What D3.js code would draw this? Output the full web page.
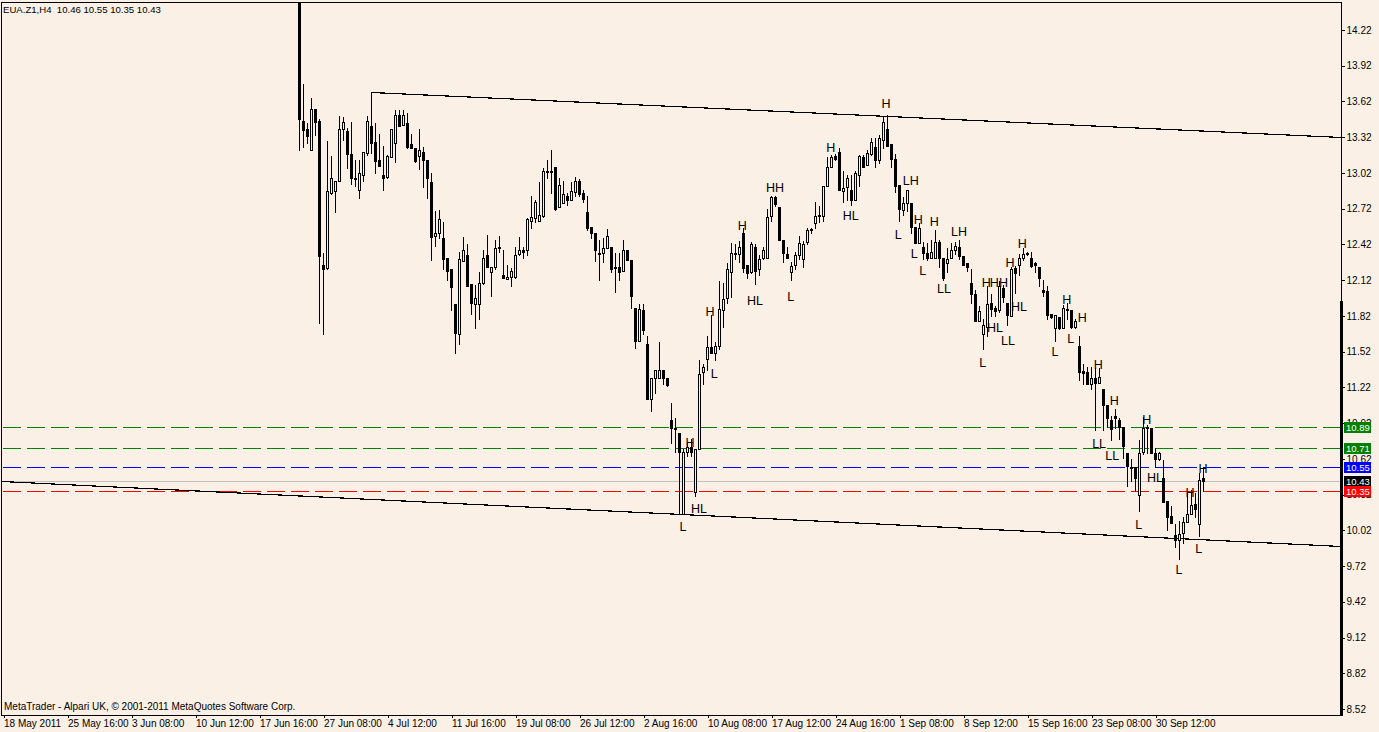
<!DOCTYPE html>
<html><head><meta charset="utf-8">
<script src="https://cdn.jsdelivr.net/npm/d3@7"></script>
<style>html,body{margin:0;padding:0;background:#FAF0E6;}svg{display:block}</style>
</head><body><svg id="c" width="1379" height="732"></svg>
<script>
// ---------------- DATA ----------------
const symbolTitle = "EUA.Z1,H4  10.46 10.55 10.35 10.43";
const copyright = "MetaTrader - Alpari UK, \u00A9 2001-2011 MetaQuotes Software Corp.";
const firstBar = 74; // index of first visible H4 bar (bar 0 = 18 May 2011)
const opens = [
14.95,13.46,13.39,13.21,13.56,13.46,12.25,12.22,12.85,12.87,
12.95,13.39,13.37,13.18,12.98,12.88,13.00,13.19,13.41,13.28,
13.13,13.00,12.99,13.15,13.27,13.51,13.42,13.44,13.26,13.23,
13.16,13.20,13.13,12.94,12.49,12.52,12.47,12.31,12.21,11.92,
11.67,12.28,12.33,12.09,11.92,11.92,12.10,12.33,12.19,12.23,
12.40,12.16,12.13,12.15,12.15,12.34,12.37,12.37,12.62,12.64,
12.62,12.66,13.04,13.03,13.07,12.73,12.77,12.83,12.79,12.86,
12.95,12.85,12.69,12.57,12.52,12.35,12.35,12.39,12.40,12.23,
12.23,12.20,12.37,12.29,11.89,11.61,11.87,11.58,11.12,11.30,
11.30,11.37,11.30,10.95,10.88,10.84,10.16,10.68,10.72,10.34,
10.70,11.35,11.46,11.56,11.51,11.57,11.87,11.97,12.19,12.35,
12.34,12.52,12.25,12.19,12.40,12.21,12.31,12.31,12.66,12.82,
12.73,12.46,12.34,12.19,12.25,12.33,12.30,12.44,12.54,12.60,
12.66,12.66,12.91,13.07,13.16,13.20,12.87,12.90,12.88,12.79,
13.00,13.15,13.09,13.18,13.24,13.13,13.30,13.39,13.26,13.14,
12.92,12.71,12.77,12.77,12.57,12.43,12.40,12.35,12.31,12.31,
12.44,12.31,12.26,12.31,12.37,12.40,12.32,12.26,12.10,12.00,
11.78,11.67,11.73,11.93,11.89,11.87,12.05,11.93,11.82,12.22,
12.25,12.31,12.35,12.31,12.26,12.23,12.04,12.03,11.84,11.72,
11.81,11.72,11.88,11.87,11.73,11.57,11.36,11.35,11.25,11.30,
11.26,11.21,11.07,10.95,10.98,10.95,10.89,10.67,10.55,10.55,
10.32,10.68,10.89,10.88,10.67,10.62,10.46,10.27,10.14,9.98,
9.94,10.00,10.09,10.16,10.24,10.07,10.46];
const highs = [
15.10,13.77,13.44,13.65,13.56,13.47,12.35,13.29,13.16,12.95,
13.50,13.49,13.40,13.45,13.13,13.13,13.20,13.50,13.70,13.44,
13.35,13.25,13.17,13.39,13.55,13.55,13.55,13.52,13.35,13.23,
13.39,13.24,13.13,13.02,12.70,12.71,12.61,12.31,12.21,11.92,
12.36,12.48,12.42,12.09,12.08,12.19,12.37,12.50,12.23,12.46,
12.49,12.37,12.25,12.22,12.40,12.48,12.40,12.64,12.83,12.79,
12.94,13.06,13.13,13.21,13.07,12.98,12.95,12.85,12.94,12.99,
12.97,12.88,12.83,12.57,12.52,12.46,12.47,12.55,12.40,12.35,
12.35,12.46,12.37,12.29,11.89,11.92,11.92,11.65,11.30,11.37,
11.60,11.37,11.30,11.09,10.96,10.84,10.70,10.76,10.79,10.70,
11.45,11.42,11.65,11.83,11.60,12.11,12.10,12.26,12.43,12.42,
12.45,12.56,12.25,12.44,12.42,12.33,12.40,12.72,12.83,12.83,
12.73,12.46,12.40,12.27,12.36,12.49,12.45,12.56,12.56,12.78,
12.74,12.91,13.15,13.17,13.18,13.23,13.04,13.00,13.00,13.04,
13.17,13.17,13.21,13.31,13.31,13.34,13.49,13.51,13.26,13.18,
12.92,12.82,12.88,12.77,12.57,12.60,12.44,12.43,12.46,12.54,
12.46,12.31,12.39,12.43,12.44,12.46,12.32,12.26,12.21,12.04,
11.90,11.79,12.07,12.00,11.90,12.11,12.08,11.93,12.23,12.24,
12.34,12.39,12.36,12.36,12.27,12.23,12.12,12.07,11.84,11.83,
11.81,11.91,11.93,11.87,11.79,11.65,11.42,11.39,11.39,11.38,
11.38,11.21,11.07,10.98,11.04,10.96,10.89,10.67,10.62,10.55,
10.78,10.97,10.90,10.88,10.71,10.68,10.61,10.27,10.22,10.07,
10.10,10.13,10.34,10.36,10.33,10.50,10.55];
const lows = [
13.21,13.24,13.27,13.21,13.34,11.76,11.67,12.21,12.84,12.69,
12.95,13.30,13.06,12.93,12.91,12.81,12.95,13.17,13.19,13.02,
13.08,12.88,12.98,13.15,13.11,13.41,13.42,13.23,13.23,13.11,
13.05,12.90,12.81,12.29,12.41,12.47,12.21,12.12,11.87,11.51,
11.58,12.28,12.07,11.84,11.72,11.79,12.09,12.23,11.99,12.21,
12.36,12.14,12.13,12.07,12.14,12.33,12.31,12.33,12.56,12.61,
12.62,12.65,12.98,12.85,12.71,12.73,12.77,12.75,12.79,12.83,
12.83,12.78,12.54,12.47,12.28,12.12,12.27,12.39,12.19,12.02,
12.12,12.20,12.29,11.89,11.55,11.61,11.67,11.12,11.02,11.17,
11.30,11.25,11.23,10.75,10.68,10.16,10.16,10.64,10.64,10.31,
10.70,11.25,11.37,11.51,11.45,11.54,11.73,11.93,11.98,12.30,
12.27,12.19,12.14,12.18,12.09,12.16,12.30,12.31,12.62,12.74,
12.46,12.27,12.31,12.12,12.21,12.30,12.23,12.42,12.52,12.56,
12.61,12.62,12.91,13.07,13.13,12.88,12.78,12.79,12.75,12.79,
12.91,13.07,13.09,13.17,13.07,13.10,13.23,13.25,13.07,12.86,
12.62,12.67,12.70,12.52,12.43,12.43,12.30,12.29,12.31,12.31,
12.23,12.12,12.19,12.31,12.34,12.30,12.25,12.20,11.93,11.78,
11.78,11.54,11.65,11.82,11.82,11.85,11.94,11.74,11.82,12.01,
12.16,12.29,12.33,12.23,12.19,12.07,11.99,11.79,11.80,11.61,
11.71,11.72,11.79,11.72,11.72,11.28,11.25,11.25,11.21,10.86,
11.26,10.86,10.89,10.78,10.88,10.79,10.63,10.39,10.43,10.35,
10.18,10.66,10.67,10.67,10.55,10.61,10.26,10.02,10.08,9.88,
9.78,9.91,10.09,10.16,10.13,9.97,10.35];
const closes = [
13.47,13.38,13.33,13.56,13.45,12.32,12.21,12.87,12.98,12.95,
13.39,13.45,13.18,12.98,12.97,13.02,13.20,13.46,13.27,13.12,
13.08,12.98,13.16,13.39,13.51,13.41,13.51,13.24,13.23,13.12,
13.21,13.13,12.98,12.48,12.52,12.63,12.30,12.20,12.06,11.68,
12.30,12.37,12.07,11.93,11.97,12.10,12.31,12.23,12.23,12.39,
12.39,12.14,12.15,12.20,12.33,12.37,12.36,12.63,12.65,12.78,
12.67,13.04,13.03,13.04,12.72,12.92,12.84,12.79,12.87,12.95,
12.84,12.80,12.56,12.52,12.37,12.34,12.39,12.49,12.21,12.22,
12.19,12.37,12.29,11.99,11.61,11.88,11.70,11.12,11.30,11.37,
11.37,11.30,11.24,10.88,10.87,10.68,10.68,10.72,10.68,10.70,
11.33,11.39,11.56,11.51,11.57,11.88,11.96,12.21,12.35,12.34,
12.40,12.22,12.18,12.42,12.20,12.30,12.37,12.65,12.82,12.76,
12.46,12.35,12.31,12.24,12.33,12.43,12.42,12.54,12.55,12.66,
12.67,12.91,13.07,13.15,13.14,12.88,12.89,12.98,12.79,13.02,
13.16,13.07,13.19,13.28,13.13,13.31,13.45,13.25,13.14,12.91,
12.72,12.77,12.88,12.57,12.43,12.56,12.35,12.31,12.36,12.44,
12.31,12.14,12.30,12.37,12.41,12.32,12.25,12.23,12.00,11.78,
11.86,11.74,11.92,11.88,11.86,12.07,11.98,11.83,12.21,12.18,
12.31,12.34,12.34,12.24,12.25,12.14,12.02,11.83,11.81,11.83,
11.72,11.89,11.87,11.73,11.78,11.35,11.34,11.25,11.30,11.26,
11.31,11.07,10.96,10.87,10.96,10.89,10.73,10.56,10.54,10.46,
10.67,10.88,10.88,10.67,10.62,10.67,10.26,10.13,10.08,9.94,
9.99,10.09,10.16,10.23,10.20,10.44,10.43];

const timeLabels = ["18 May 2011","25 May 16:00","3 Jun 08:00","10 Jun 12:00","17 Jun 16:00",
"27 Jun 08:00","4 Jul 12:00","11 Jul 16:00","19 Jul 08:00","26 Jul 12:00","2 Aug 16:00",
"10 Aug 08:00","17 Aug 12:00","24 Aug 16:00","1 Sep 08:00","8 Sep 12:00","15 Sep 16:00",
"23 Sep 08:00","30 Sep 12:00"];
const barsPerTimeLabel = 16;
const priceTicks = [14.22,13.92,13.62,13.32,13.02,12.72,12.42,12.12,11.82,11.52,11.22,
10.92,10.62,10.32,10.02,9.72,9.42,9.12,8.82,8.52];

const levelNames  = ["resistance1","resistance2","high","bid","low"];
const levelPrices = [10.89, 10.71, 10.55, 10.43, 10.35];

const upperTrendBars = [92, 334.5];
const upperTrendPrices = [13.70, 13.32];
const lowerTrendBars = [-0.5, 334.5];
const lowerTrendPrices = [10.43, 9.89];

const markTexts  = ["H","H","HH","H","HL","L","H","L","H","HL","L","HL","L","LH","H","L","H","L","LH","LL",
"H","H","H","H","H","HL","HL","LL","L","H","H","L","L","H","H","H","LL","LL","HL","L","L","L","H","H"];
const markBars   = [220.6,206.8,192.9,184.7,187.9,196.8,176.6,177.7,171.6,173.9,169.9,211.8,223.7,226.8,228.7,227.7,232.7,229.8,238.9,235.1,
254.7,251.6,245.7,247.7,250.0,253.9,247.9,251.1,244.8,265.8,269.7,266.8,262.9,273.7,277.7,285.8,273.9,277.2,287.9,283.8,293.9,298.8,296.6,299.9];
const markPrices = [13.60,13.23,12.90,12.58,11.95,11.98,11.86,11.34,10.76,10.20,10.05,12.66,12.50,12.96,12.63,12.34,12.61,12.20,12.53,12.05,
12.43,12.27,12.10,12.10,12.10,11.90,11.72,11.61,11.43,11.96,11.81,11.63,11.52,11.41,11.11,10.95,10.75,10.65,10.46,10.07,9.69,9.87,10.34,10.54];

// ---------------- STYLE / LAYOUT ----------------
const W = 1379, H = 732;
const BG = "#FAF0E6";
const plot = {left: 1.5, top: 2.5, right: 1341.5, bottom: 715.5};
const levelStyle = {
  resistance1: {stroke: "#008000", dash: "18,6", box: "#008000"},
  resistance2: {stroke: "#008000", dash: "18,6", box: "#008000"},
  high:        {stroke: "#0000FF", dash: "18,6", box: "#0000FF"},
  bid:         {stroke: "#C0C0C0", dash: null,   box: "#000000"},
  low:         {stroke: "#FF0000", dash: "18,6", box: "#FF0000"}
};
const FONT = "'Liberation Sans', Arial, sans-serif";

const svg = d3.select("#c");
svg.append("rect").attr("width", W).attr("height", H).attr("fill", BG);

const x = d3.scaleLinear().domain([0, 1]).range([3, 7]);          // bar index -> pixel column
const y = d3.scaleLinear().domain([8.52, 14.22]).range([709, 30]); // price -> pixel row

svg.append("defs").append("clipPath").attr("id", "plotClip")
  .append("rect").attr("x", 2).attr("y", 3).attr("width", 1339).attr("height", 712);

const candles = opens.map((o, k) => ({i: firstBar + k, o, h: highs[k], l: lows[k], c: closes[k]}));

// horizontal levels
const lv = svg.append("g").attr("clip-path", "url(#plotClip)").attr("shape-rendering", "crispEdges");
levelPrices.forEach((p, k) => {
  const st = levelStyle[levelNames[k]];
  const yy = Math.round(y(p)) + 0.5;
  lv.append("line").attr("x1", 3).attr("x2", 1341).attr("y1", yy).attr("y2", yy)
    .attr("stroke", st.stroke).attr("stroke-width", 1)
    .attr("stroke-dasharray", st.dash);
});

// trend lines
const tl = svg.append("g").attr("clip-path", "url(#plotClip)").attr("shape-rendering", "crispEdges");
[[upperTrendBars, upperTrendPrices], [lowerTrendBars, lowerTrendPrices]].forEach(([b, p]) => {
  tl.append("line")
    .attr("x1", x(b[0]) + 0.5).attr("y1", Math.round(y(p[0])) + 0.5)
    .attr("x2", x(b[1]) + 0.5).attr("y2", Math.round(y(p[1])) + 0.5)
    .attr("stroke", "#000").attr("stroke-width", 1.2);
});

// candles
const cg = svg.append("g").attr("clip-path", "url(#plotClip)").attr("shape-rendering", "crispEdges");
candles.forEach(d => {
  const c = x(d.i);
  const yh = Math.round(y(d.h)), yl = Math.round(y(d.l));
  cg.append("line").attr("x1", c + 0.5).attr("x2", c + 0.5)
    .attr("y1", yh).attr("y2", yl + 1).attr("stroke", "#000").attr("stroke-width", 1);
  const yt = Math.round(y(Math.max(d.o, d.c))), yb = Math.round(y(Math.min(d.o, d.c)));
  if (d.c > d.o) {
    cg.append("rect").attr("x", c - 0.5).attr("y", yt + 0.5)
      .attr("width", 2).attr("height", Math.max(yb - yt, 0))
      .attr("fill", BG).attr("stroke", "#000").attr("stroke-width", 1);
  } else {
    cg.append("rect").attr("x", c - 1).attr("y", yt)
      .attr("width", 3).attr("height", Math.max(yb - yt + 1, 1)).attr("fill", "#000");
  }
});

// H / L marks
svg.append("g").selectAll("text").data(markTexts).join("text")
  .attr("x", (t, k) => x(markBars[k]) + 0.5)
  .attr("y", (t, k) => y(markPrices[k]) + 4.5)
  .attr("text-anchor", "middle")
  .attr("font-family", FONT).attr("font-size", "12.5px").attr("fill", "#000")
  .text(t => t);

// frame
svg.append("rect").attr("x", plot.left).attr("y", plot.top)
  .attr("width", plot.right - plot.left).attr("height", plot.bottom - plot.top)
  .attr("fill", "none").attr("stroke", "#000").attr("stroke-width", 1)
  .attr("shape-rendering", "crispEdges");
svg.append("rect").attr("x", 1340).attr("y", 301).attr("width", 3).attr("height", 415)
  .attr("fill", "#000");

// right price axis
const ya = svg.append("g").attr("transform", "translate(1341.5,0)")
  .call(d3.axisRight(y).tickValues(priceTicks).tickFormat(d3.format(".2f")).tickSize(3).tickPadding(2));
ya.select(".domain").remove();
ya.selectAll(".tick line").attr("stroke", "#000").attr("shape-rendering", "crispEdges");
ya.selectAll(".tick text").attr("font-family", FONT).attr("font-size", "10px").attr("fill", "#000");

// level price boxes (drawn over the regular tick labels, as in the terminal)
const bx = svg.append("g");
levelPrices.forEach((p, k) => {
  const st = levelStyle[levelNames[k]];
  const yy = Math.round(y(p));
  bx.append("rect").attr("x", 1344).attr("y", yy - 5).attr("width", 27).attr("height", 11)
    .attr("fill", st.box).attr("shape-rendering", "crispEdges");
  bx.append("text").attr("x", 1346).attr("y", yy + 4).attr("font-family", FONT)
    .attr("font-size", "9.5px").attr("fill", "#fff").text(d3.format(".2f")(p));
});

// bottom time axis
const tickBars = timeLabels.map((t, k) => k * barsPerTimeLabel);
const xa = svg.append("g").attr("transform", "translate(0.5,715)")
  .call(d3.axisBottom(x).tickValues(tickBars)
    .tickFormat((b) => timeLabels[b / barsPerTimeLabel]).tickSize(3).tickPadding(2));
xa.select(".domain").remove();
xa.selectAll(".tick line").attr("stroke", "#000").attr("shape-rendering", "crispEdges");
xa.selectAll(".tick text").attr("text-anchor", "start").attr("x", 0).attr("y", 5).attr("dy", "0.71em")
  .attr("font-family", FONT).attr("font-size", "10px").attr("fill", "#000");

// titles
svg.append("text").attr("x", 3).attr("y", 13).attr("font-family", FONT).attr("font-size", "9.6px")
  .attr("fill", "#000").attr("xml:space", "preserve").style("white-space", "pre").text(symbolTitle);
svg.append("text").attr("x", 4).attr("y", 710).attr("font-family", FONT).attr("font-size", "10px")
  .attr("fill", "#000").text(copyright);
</script></body></html>
